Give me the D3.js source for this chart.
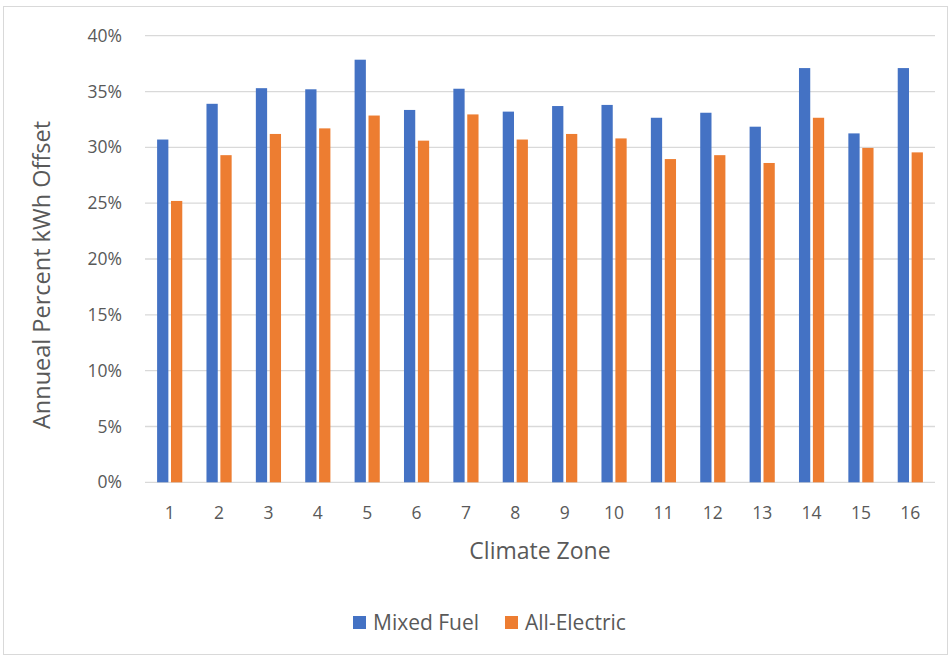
<!DOCTYPE html>
<html><head><meta charset="utf-8">
<script src="https://cdn.jsdelivr.net/npm/d3@7"></script>
<style>body{margin:0;background:#fff}svg{display:block}text{font-family:"Open Sans",sans-serif;fill:#595959}</style>
</head><body><svg id="c" width="951" height="657"></svg>
<script>
const zones = ["1","2","3","4","5","6","7","8","9","10","11","12","13","14","15","16"];
const seriesNames = ["Mixed Fuel","All-Electric"];
const mixedFuel = [30.7,33.9,35.3,35.2,37.85,33.35,35.25,33.2,33.7,33.8,32.65,33.1,31.85,37.1,31.25,37.1];
const allElectric = [25.2,29.3,31.2,31.7,32.85,30.6,32.95,30.7,31.2,30.8,28.95,29.3,28.6,32.65,29.95,29.55];
const yTicks = [0,5,10,15,20,25,30,35,40];
const colors = ["#4472C4","#ED7D31"];

const svg = d3.select("#c");
svg.append("rect").attr("x",3.5).attr("y",6.5).attr("width",944).attr("height",648)
  .attr("fill","#fff").attr("stroke","#D9D9D9").attr("stroke-width",1);

const x = d3.scaleBand().domain(zones).range([145,935]).padding(0);
const inner = d3.scaleBand().domain(seriesNames).range([12.1, x.bandwidth()-12.1]).paddingInner(0.19);
const y = d3.scaleLinear().domain([0,40]).range([482.3,35.7]);

svg.append("g").selectAll("line").data(yTicks).join("line")
  .attr("x1",145).attr("x2",935).attr("y1",d=>y(d)).attr("y2",d=>y(d))
  .attr("stroke","#D9D9D9").attr("stroke-width",1.3);

svg.append("g").selectAll("text").data(yTicks).join("text")
  .attr("x",122).attr("y",d=>y(d)).attr("dy","0.35em").attr("text-anchor","end")
  .attr("font-size",17.5).text(d=>d+"%");

const data = [mixedFuel, allElectric];
data.forEach((vals,si)=>{
  svg.append("g").selectAll("rect").data(vals).join("rect")
    .attr("x",(d,i)=>x(zones[i])+inner(seriesNames[si]))
    .attr("width",inner.bandwidth())
    .attr("y",d=>y(d)).attr("height",d=>y(0)-y(d))
    .attr("fill",colors[si]);
});

svg.append("g").selectAll("text").data(zones).join("text")
  .attr("x",d=>x(d)+x.bandwidth()/2).attr("y",513).attr("dy","0.35em")
  .attr("text-anchor","middle").attr("font-size",17.5).text(d=>d);

svg.append("text").attr("x",540).attr("y",551).attr("dy","0.35em").attr("text-anchor","middle")
  .attr("font-size",23).text("Climate Zone");
svg.append("text").attr("transform","translate(42,275) rotate(-90)").attr("dy","0.35em")
  .attr("text-anchor","middle").attr("font-size",23.5).text("Annueal Percent kWh Offset");

const legX = [353,505];
const lg = svg.append("g");
seriesNames.forEach((n,i)=>{
  lg.append("rect").attr("x",legX[i]).attr("y",616).attr("width",13).attr("height",13).attr("fill",colors[i]);
  lg.append("text").attr("x",legX[i]+20).attr("y",623).attr("dy","0.35em").attr("font-size",21).text(n);
});
</script></body></html>
